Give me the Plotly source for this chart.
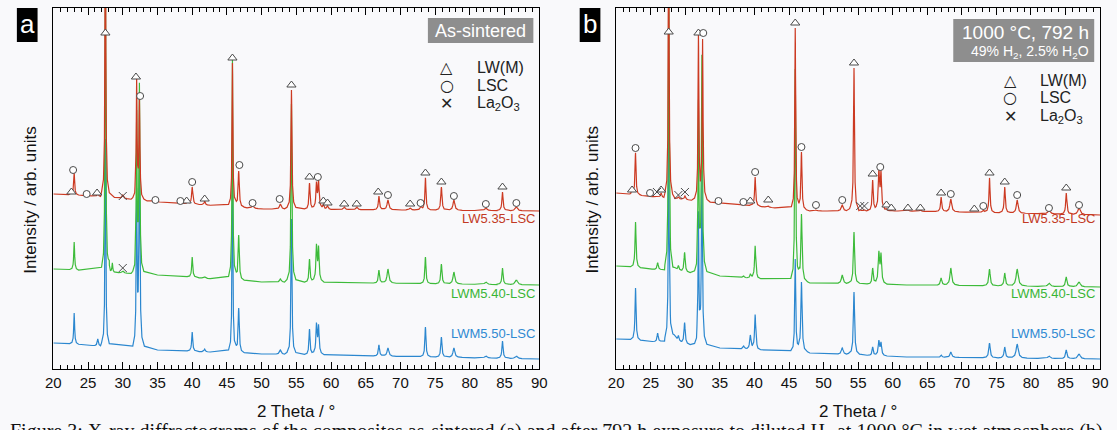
import numpy as np
import plotly.graph_objects as go

W, H = 1117, 430

# ---------------------------------------------------------------- data
# background knots (2θ, intensity) and reflections (2θ, apex intensity, HWHM)

# (a) as-sintered
bg_a_lw535 = ([20, 28, 35, 42, 50, 90], [175, 172, 167, 164, 160, 158])
peaks_a_lw535 = [
    (22.6, 177, 0.10), (23.0, 196, 0.08), (24.8, 175, 0.15), (26.4, 176, 0.10),
    (27.5, 460, 0.07), (30.0, 174, 0.15), (32.0, 287, 0.07), (32.4, 268, 0.08),
    (34.7, 169, 0.15), (38.3, 167, 0.12), (39.3, 167, 0.12), (40.0, 182, 0.10),
    (41.8, 168, 0.10), (45.8, 306, 0.07), (46.7, 198, 0.10), (48.7, 163, 0.20),
    (52.7, 165, 0.15), (54.3, 279, 0.08), (56.9, 186, 0.09), (57.9, 184, 0.10),
    (58.2, 186, 0.10), (58.9, 164, 0.12), (59.5, 163, 0.12), (61.9, 162, 0.15),
    (63.7, 162, 0.15), (66.9, 173, 0.10), (68.2, 169, 0.15), (71.4, 161, 0.15),
    (72.9, 162, 0.15), (73.6, 191, 0.09), (75.9, 182, 0.10), (77.7, 169, 0.15),
    (82.3, 161, 0.20), (84.7, 177, 0.10), (86.7, 162, 0.20),
]

bg_a_lwm540 = ([20, 35, 50, 90], [100, 94, 87, 84])
peaks_a_lwm540 = [
    (23.0, 127, 0.08), (27.5, 400, 0.07), (28.05, 104, 0.07), (28.5, 106, 0.07),
    (30.0, 98, 0.15), (32.0, 250, 0.07), (32.4, 280, 0.08), (40.0, 112, 0.09),
    (41.8, 92, 0.10), (45.8, 310, 0.07), (46.7, 134, 0.10), (52.7, 90, 0.15),
    (54.3, 265, 0.08), (56.9, 110, 0.09), (57.9, 121, 0.10), (58.2, 119, 0.10),
    (66.9, 99, 0.10), (68.2, 100, 0.15), (73.6, 112, 0.09), (75.9, 105, 0.10),
    (77.7, 97, 0.15), (82.3, 87, 0.20), (84.7, 101, 0.10), (86.7, 89, 0.20),
]

bg_a_lwm550 = ([20, 35, 50, 90], [26, 19, 15, 10])
peaks_a_lwm550 = [
    (23.0, 56, 0.08), (26.4, 30, 0.10), (27.5, 230, 0.07), (32.0, 170, 0.07),
    (32.4, 215, 0.09), (40.0, 37, 0.09), (41.8, 20, 0.10), (45.8, 200, 0.07),
    (46.7, 61, 0.10), (52.7, 19, 0.15), (54.3, 150, 0.08), (56.9, 40, 0.09),
    (57.9, 43, 0.10), (58.2, 41, 0.10), (66.9, 24, 0.10), (68.2, 21, 0.15),
    (73.6, 42, 0.09), (75.9, 32, 0.10), (77.7, 21, 0.15), (82.3, 13, 0.20),
    (84.7, 28, 0.10), (86.7, 13, 0.20),
]

# (b) after 792 h at 1000 °C
bg_b_lw535 = ([20, 35, 48, 62, 90], [176, 166, 158, 158, 154])
peaks_b_lw535 = [
    (22.3, 179, 0.10), (22.8, 216, 0.08), (24.9, 172, 0.15), (25.9, 173, 0.12),
    (26.5, 176, 0.10), (27.6, 460, 0.07), (29.0, 172, 0.12), (29.95, 173, 0.12),
    (31.9, 332, 0.07), (32.5, 330, 0.08), (34.8, 166, 0.15), (38.4, 164, 0.12),
    (39.4, 164, 0.12), (40.1, 192, 0.09), (42.0, 163, 0.12), (45.9, 341, 0.07),
    (46.8, 217, 0.09), (48.9, 159, 0.20), (52.7, 164, 0.15), (54.4, 301, 0.08),
    (55.3, 159, 0.15), (55.9, 159, 0.15), (57.1, 189, 0.09), (58.0, 196, 0.10),
    (58.3, 194, 0.10), (59.1, 160, 0.12), (59.8, 159, 0.12), (62.2, 159, 0.15),
    (64.0, 159, 0.15), (67.0, 172, 0.10), (68.4, 170, 0.15), (71.8, 157, 0.15),
    (73.1, 159, 0.15), (74.0, 191, 0.09), (76.2, 182, 0.10), (78.0, 169, 0.15),
    (82.6, 159, 0.20), (85.1, 176, 0.10), (86.95, 161, 0.20),
]

bg_b_lwm540 = ([20, 35, 48, 62, 90], [103, 93, 86, 84, 82])
peaks_b_lwm540 = [
    (22.8, 147, 0.09), (26.0, 106, 0.10), (27.6, 400, 0.07), (28.2, 102, 0.60),
    (29.0, 102, 0.10), (29.9, 116, 0.10), (31.9, 260, 0.07), (32.4, 310, 0.09),
    (38.4, 93, 0.15), (39.4, 94, 0.12), (40.1, 123, 0.10), (45.9, 300, 0.08),
    (46.8, 155, 0.11), (52.7, 94, 0.15), (54.4, 137, 0.10), (57.1, 101, 0.10),
    (58.0, 114, 0.11), (58.3, 112, 0.11), (67.0, 91, 0.12), (68.4, 101, 0.15),
    (74.0, 100, 0.12), (76.2, 96, 0.12), (78.0, 100, 0.18), (82.6, 86, 0.20),
    (85.1, 92, 0.12), (86.95, 87, 0.20),
]

bg_b_lwm550 = ([20, 35, 48, 62, 90], [30, 21, 16, 12, 10])
peaks_b_lwm550 = [
    (22.8, 81, 0.09), (26.0, 35, 0.10), (27.6, 240, 0.07), (28.2, 35, 0.60),
    (29.0, 30, 0.10), (29.9, 45, 0.10), (31.9, 150, 0.07), (32.4, 195, 0.09),
    (38.4, 23, 0.15), (39.4, 33, 0.12), (40.1, 54, 0.10), (45.9, 110, 0.08),
    (46.8, 87, 0.11), (52.7, 21, 0.15), (54.4, 77, 0.10), (57.1, 22, 0.10),
    (58.0, 27, 0.11), (58.3, 25, 0.11), (67.0, 14, 0.12), (68.4, 17, 0.15),
    (74.0, 26, 0.12), (76.2, 22, 0.12), (78.0, 25, 0.18), (82.6, 13, 0.20),
    (85.1, 19, 0.12), (86.95, 15, 0.20),
]

# phase identification marks (2θ, intensity)
marks_a_lw = [(22.6, 177), (26.3, 176), (27.5, 336), (31.9, 292), (39.2, 168),
              (41.8, 170), (45.8, 311), (54.3, 284), (56.9, 192), (58.9, 168),
              (59.5, 166), (61.9, 165), (63.7, 165), (66.8, 177), (71.4, 165),
              (73.6, 196), (75.9, 187), (84.7, 182)]
marks_a_lsc = [(22.85, 199), (24.8, 175), (32.5, 273), (34.7, 169), (38.3, 168),
               (40.0, 187), (46.8, 204), (48.7, 166), (52.6, 170), (58.1, 192),
               (68.2, 174), (72.9, 166), (77.7, 173), (82.3, 165), (86.7, 166)]
marks_a_la2o3 = [(30.0, 173), (30.0, 101)]

marks_b_lw = [(22.3, 179), (26.5, 179), (27.6, 337), (31.9, 336), (39.4, 168),
              (42.0, 169), (45.9, 346), (54.4, 306), (57.1, 195), (59.1, 164),
              (59.8, 161), (62.2, 161), (64.0, 161), (67.0, 176), (71.8, 160),
              (74.0, 196), (76.2, 187), (85.1, 181)]
marks_b_lsc = [(22.8, 221), (24.9, 176), (32.6, 336), (34.8, 168), (38.4, 167),
               (40.1, 197), (46.8, 222), (48.9, 164), (52.7, 169), (58.2, 202),
               (68.4, 175), (73.1, 163), (78.0, 174), (82.6, 161), (86.95, 164)]
marks_b_la2o3 = [(25.9, 177), (29.0, 174), (29.95, 177), (55.3, 163), (55.9, 163)]

sample_names = ["LW5.35-LSC", "LWM5.40-LSC", "LWM5.50-LSC"]
label_levels = [150, 76, 36]
x_ticks = list(range(20, 91, 5))

# ---------------------------------------------------------------- style
COLORS = ["#cc3a22", "#3dbb3a", "#2b87cf"]
LABEL_COLORS = ["#c23a24", "#39b536", "#2f89d2"]
MARK_COLOR = "#4a4a4a"
FONT = "Liberation Sans, Arial, sans-serif"
BG = "#f9f9fb"

# line profile of one reflection, offsets in units of HWHM
SHAPE_X = np.array([-8, -4, -2, -1.3, -1, -0.6, -0.3, 0, 0.3, 0.6, 1, 1.3, 2, 4, 8])
SHAPE_Y = np.array([0.015, 0.06, 0.2, 0.37, 0.5, 0.74, 0.92, 1.0,
                    0.92, 0.74, 0.5, 0.37, 0.2, 0.06, 0.015])


def pattern(bg, peaks):
    bx, by = np.asarray(bg[0], float), np.asarray(bg[1], float)
    xs = [bx]
    for p, _, g in peaks:
        xs.append(p + g * SHAPE_X)
    x = np.unique(np.clip(np.concatenate(xs), 20, 90))
    y = np.interp(x, bx, by)
    for p, apex, g in peaks:
        h = apex - np.interp(p, bx, by)
        y = y + h * np.interp(x, p + g * SHAPE_X, SHAPE_Y, left=0, right=0)
    return x, y


def px_x(px):
    return px / W


def px_y(py):
    return 1 - py / H


fig = go.Figure()

panels = [
    ("x", "y", [(bg_a_lwm550, peaks_a_lwm550), (bg_a_lwm540, peaks_a_lwm540),
                (bg_a_lw535, peaks_a_lw535)],
     marks_a_lw, marks_a_lsc, marks_a_la2o3),
    ("x2", "y2", [(bg_b_lwm550, peaks_b_lwm550), (bg_b_lwm540, peaks_b_lwm540),
                  (bg_b_lw535, peaks_b_lw535)],
     marks_b_lw, marks_b_lsc, marks_b_la2o3),
]

for xa, ya, patterns, m_lw, m_lsc, m_la in panels:
    # draw bottom pattern first so the upper ones lie on top
    for (bg, peaks), col in zip(patterns, COLORS[::-1]):
        x, y = pattern(bg, peaks)
        fig.add_trace(go.Scatter(x=x, y=y, mode="lines", xaxis=xa, yaxis=ya,
                                 line=dict(color=col, width=1.2),
                                 showlegend=False, hoverinfo="skip"))
    for marks, sym, size, fill in [(m_lw, "triangle-up", 8, "white"),
                                   (m_lsc, "circle", 7, "white"),
                                   (m_la, "x-thin", 8, MARK_COLOR)]:
        fig.add_trace(go.Scatter(
            x=[m[0] for m in marks], y=[m[1] for m in marks], mode="markers",
            xaxis=xa, yaxis=ya, showlegend=False, hoverinfo="skip",
            marker=dict(symbol=sym, size=size, color=fill,
                        line=dict(color=MARK_COLOR, width=1))))
    for name, lvl, col in zip(sample_names, label_levels, LABEL_COLORS):
        fig.add_annotation(x=89.6, y=lvl, xref=xa, yref=ya, text=name,
                           showarrow=False, xanchor="right", yanchor="middle",
                           font=dict(family=FONT, size=13, color=col))

axis_common = dict(
    range=[20, 90], tickvals=x_ticks, ticks="inside", ticklen=7, tickwidth=1,
    tickcolor="black", showline=True, linecolor="black", linewidth=1.4,
    mirror="ticks", showgrid=False, zeroline=False,
    minor=dict(dtick=1, ticks="inside", ticklen=3.5, tickcolor="black", tickwidth=1),
    tickfont=dict(family=FONT, size=15, color="#111"),
)
yaxis_common = dict(range=[0, 361], showticklabels=False, ticks="",
                    showline=True, linecolor="black", linewidth=1.4, mirror=True,
                    showgrid=False, zeroline=False,
                    domain=[px_y(369), px_y(8)])

fig.update_layout(
    width=W, height=H, margin=dict(l=0, r=0, t=0, b=0),
    paper_bgcolor=BG, plot_bgcolor=BG,
    xaxis=dict(domain=[px_x(46), px_x(539)], anchor="y", **axis_common),
    xaxis2=dict(domain=[px_x(617), px_x(1108)], anchor="y2", **axis_common),
    yaxis=dict(anchor="x", **yaxis_common),
    yaxis2=dict(anchor="x2", **yaxis_common),
)

# panel letters
for x0, x1, letter in [(9, 30, "a"), (580, 601, "b")]:
    fig.add_shape(type="rect", xref="paper", yref="paper",
                  x0=px_x(x0), x1=px_x(x1), y0=px_y(42), y1=px_y(8),
                  fillcolor="black", line=dict(width=0), layer="above")
    fig.add_annotation(x=px_x((x0 + x1) / 2), y=px_y(24), xref="paper", yref="paper",
                       text=letter, showarrow=False, xanchor="center", yanchor="middle",
                       font=dict(family=FONT, size=26, color="white"))

# condition boxes
fig.add_shape(type="rect", xref="paper", yref="paper",
              x0=px_x(426), x1=px_x(533), y0=px_y(43), y1=px_y(18),
              fillcolor="#8e8e8e", line=dict(width=0), layer="above")
fig.add_annotation(x=px_x(479.5), y=px_y(30.5), xref="paper", yref="paper",
                   text="As-sintered", showarrow=False, xanchor="center",
                   yanchor="middle", font=dict(family=FONT, size=18, color="white"))

fig.add_shape(type="rect", xref="paper", yref="paper",
              x0=px_x(959), x1=px_x(1102), y0=px_y(62), y1=px_y(19),
              fillcolor="#8e8e8e", line=dict(width=0), layer="above")
fig.add_annotation(x=px_x(1099), y=px_y(32), xref="paper", yref="paper",
                   text="1000 °C, 792 h", showarrow=False, xanchor="right",
                   yanchor="middle", font=dict(family=FONT, size=19, color="white"))
fig.add_annotation(x=px_x(1099), y=px_y(52), xref="paper", yref="paper",
                   text="49% H<sub>2</sub>, 2.5% H<sub>2</sub>O", showarrow=False,
                   xanchor="right", yanchor="middle",
                   font=dict(family=FONT, size=14, color="white"))

# phase keys
key_entries = [("△", "LW(M)", 16), ("○", "LSC", 16), ("✕", "La<sub>2</sub>O<sub>3</sub>", 16)]
for sym_x, txt_x, rows in [(445, 474, [67, 85, 103]), (1017, 1045, [80, 98, 116])]:
    for (sym, txt, ssize), row in zip(key_entries, rows):
        fig.add_annotation(x=px_x(sym_x), y=px_y(row), xref="paper", yref="paper",
                           text=sym, showarrow=False, xanchor="center", yanchor="middle",
                           font=dict(family="DejaVu Sans", size=ssize, color="#222"))
        fig.add_annotation(x=px_x(txt_x), y=px_y(row), xref="paper", yref="paper",
                           text=txt, showarrow=False, xanchor="left", yanchor="middle",
                           font=dict(family=FONT, size=16, color="#222"))

# axis titles
for cx, ycx in [(292.5, 23), (862.5, 593)]:
    fig.add_annotation(x=px_x(cx), y=px_y(411), xref="paper", yref="paper",
                       text="2 Theta / °", showarrow=False, xanchor="center",
                       yanchor="middle", font=dict(family=FONT, size=17, color="#111"))
    fig.add_annotation(x=px_x(ycx), y=px_y(200), xref="paper", yref="paper",
                       text="Intensity / arb. units", showarrow=False, textangle=-90,
                       xanchor="center", yanchor="middle",
                       font=dict(family=FONT, size=17, color="#111"))

# figure caption running along the bottom edge
fig.add_annotation(x=0, y=px_y(418), xref="paper", yref="paper",
                   text="Figure 3: X-ray diffractograms of the composites as-sintered (a) "
                        "and after 792 h exposure to diluted H<sub>2</sub> at 1000 °C in wet atmosphere (b)",
                   showarrow=False, xanchor="left", yanchor="top",
                   font=dict(family="Liberation Serif, Times New Roman, serif",
                             size=20, color="#111"))

fig.write_html("out.html")
